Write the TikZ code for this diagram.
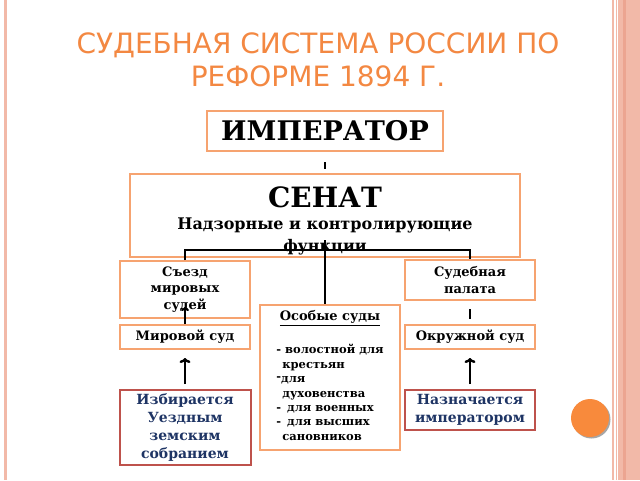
\documentclass[tikz,border=0pt]{standalone}
\usepackage{fontspec}
\setmainfont{DejaVu Serif}
\newfontfamily\titlefont{DejaVu Sans}
\usepackage{xcolor}
\usepackage{tikz}
\usetikzlibrary{arrows.meta}

\definecolor{titleorange}{RGB}{243,136,66}
\definecolor{boxorange}{RGB}{246,163,112}
\definecolor{boxred}{RGB}{190,82,76}
\definecolor{textnavy}{RGB}{30,52,100}
\definecolor{stripe}{RGB}{242,185,168}
\definecolor{stripedark}{RGB}{236,165,145}
\definecolor{dotorange}{RGB}{248,138,60}

\tikzset{
  obox/.style={draw=boxorange, line width=2pt, inner sep=2pt, align=center,
    font=\bfseries\fontsize{13}{16.5}\selectfont},
  rbox/.style={draw=boxred, line width=2pt, inner sep=2pt, align=center, text=textnavy,
    font=\bfseries\fontsize{14}{18}\selectfont},
  link/.style={line width=2pt},
  uparrow/.style={line width=2.4pt, -{To[length=5pt,width=11pt]}}
}

\begin{document}
\begin{tikzpicture}[x=1pt,y=-1pt]
\useasboundingbox (0,0) rectangle (640,480);
\draw[line width=3pt, stripe] (5,0) -- (5,480);
\fill[stripe] (618,0) rectangle (640,480);
\draw[line width=2.5pt, stripedark] (624.5,0) -- (624.5,480);
\draw[line width=1.2pt, stripe] (613,0) -- (613,480);
\draw[line width=0.8pt, stripe] (616,0) -- (616,480);
\fill[black!35] (591.5,419.5) circle (19pt);
\fill[dotorange] (590,418) circle (19pt);

\node[font=\titlefont\fontsize{28}{33}\selectfont, text=titleorange, align=center] (title) at (318,59.5) {СУДЕБНАЯ СИСТЕМА РОССИИ ПО\\РЕФОРМЕ 1894 Г.};

\node[obox, minimum width=236pt, minimum height=40pt, font=\bfseries\fontsize{27}{30}\selectfont] (imp) at (325,131) {ИМПЕРАТОР};
\node[obox, minimum width=390pt, minimum height=83pt] (senat) at (325,215.5) {};
\node[font=\bfseries\fontsize{16}{22}\selectfont, align=center] (senat-text) at (325,220.5) {{\fontsize{28}{30}\selectfont СЕНАТ}\\Надзорные и контролирующие\\функции};

\node[obox, minimum width=130pt, minimum height=57pt] (syezd) at (185,289.5) {Съезд\\мировых\\судей};
\node[obox, minimum width=130pt, minimum height=24pt] (mir) at (185,337) {Мировой суд};
\node[obox, minimum width=130pt, minimum height=40pt] (palata) at (470,280) {Судебная\\палата};
\node[obox, minimum width=130pt, minimum height=24pt] (okr) at (470,337) {Окружной суд};
\node[obox, minimum width=140pt, minimum height=145pt, font=\bfseries\fontsize{11.5}{14.4}\selectfont] (osob) at (330,377.5) {\begin{tabular}{@{}l@{}}
\multicolumn{1}{@{}c@{}}{\fontsize{13}{14.4}\selectfont\underline{Особые суды}}\\[19pt]
- волостной для\\
\hspace{6pt}крестьян\\
\raisebox{2pt}{-}для\\
\hspace{6pt}духовенства\\
-\hspace{6pt}для военных\\
-\hspace{6pt}для высших\\
\hspace{6pt}сановников
\end{tabular}};
\node[rbox, minimum width=131pt, minimum height=75pt] (izb) at (185,427.5) {Избирается\\Уездным\\земским\\собранием};
\node[rbox, minimum width=130pt, minimum height=40pt] (naz) at (470,410) {Назначается\\императором};

\coordinate (sen-c) at (325,240);
\draw[link, shorten <=10pt, shorten >=4pt] (imp.south) -- (senat.north);
\draw[link] (syezd.north) -- ++(0,-10) -| (palata.north);
\draw[link] (sen-c) -- (sen-c |- osob.north);
\draw[link, shorten <=8pt, shorten >=5pt] (palata.south) -- (okr.north);
\draw[uparrow, line width=2pt, -{To[length=4pt,width=8pt]}, shorten >=-12pt] (mir.north) -- (syezd.south);
\draw[uparrow, shorten <=5pt, shorten >=8pt] (izb.north) -- (mir.south);
\draw[uparrow, shorten <=5pt, shorten >=8pt] (naz.north) -- (okr.south);
\end{tikzpicture}
\end{document}
